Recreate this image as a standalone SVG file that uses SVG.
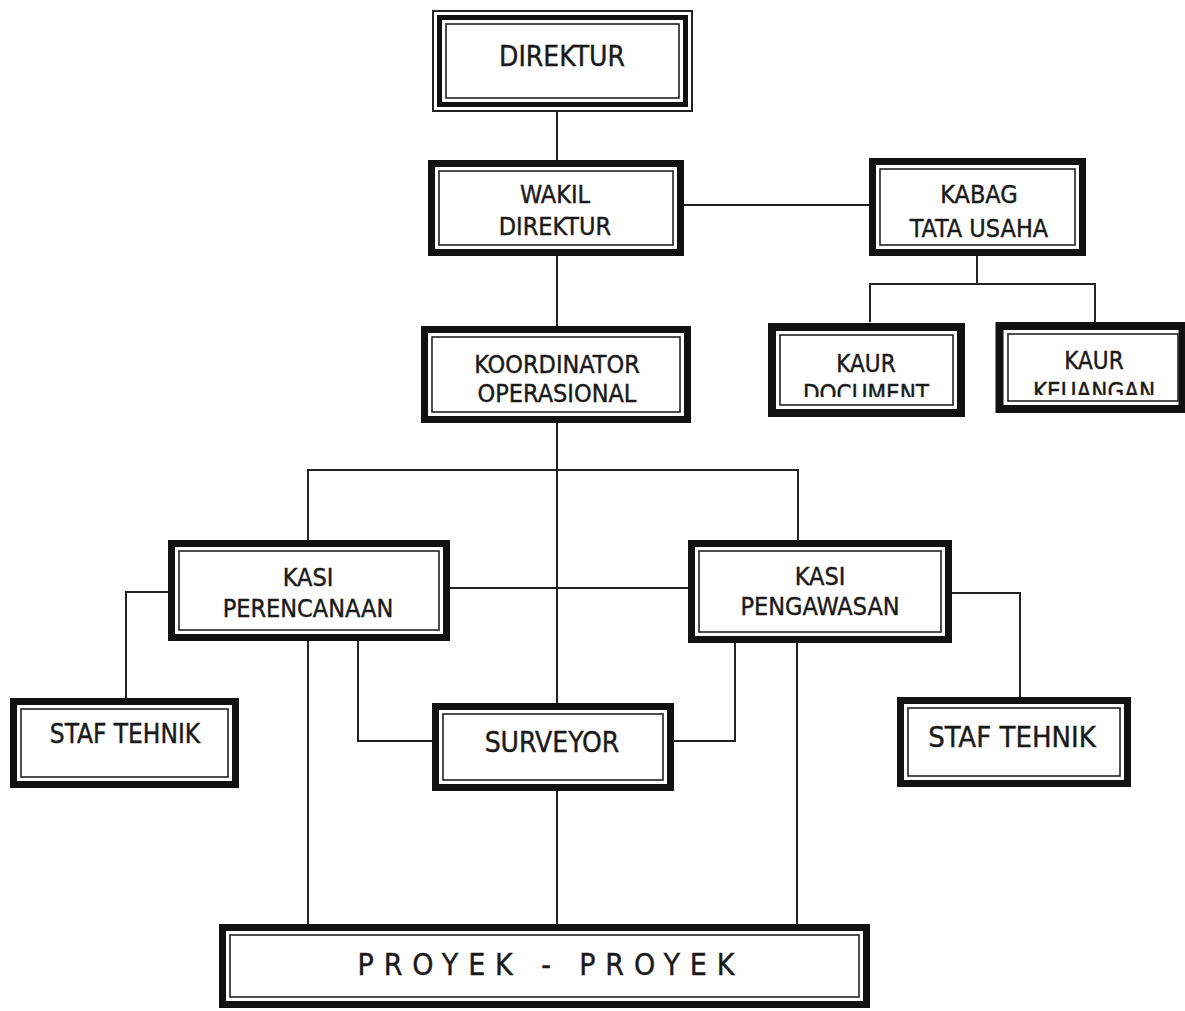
<svg xmlns="http://www.w3.org/2000/svg" width="1185" height="1011" viewBox="0 0 1185 1011">
<style>
  .thick { fill: #fff; stroke: #111; stroke-width: 7; }
  .thin { fill: none; stroke: #222; stroke-width: 1.6; }
  .thin2 { fill: none; stroke: #222; stroke-width: 2; }
  .mid { fill: none; stroke: #111; stroke-width: 5; }
  .lbl { font-family: "DejaVu Sans Condensed", "DejaVu Sans", sans-serif; font-size: 25px; fill: #1a1a1a; stroke: #1a1a1a; stroke-width: 0.4; text-anchor: middle; }
  .conn line, .conn polyline { fill: none; stroke: #222; stroke-width: 2; }
</style>
<defs>
  <clipPath id="clipDoc"><rect x="770" y="378" width="190" height="19"/></clipPath>
  <clipPath id="clipKeu"><rect x="1000" y="376" width="185" height="19"/></clipPath>
</defs>
<rect width="1185" height="1011" fill="#fff"/>

<g class="conn" id="connectors">
  <line x1="557" y1="112" x2="557" y2="160"/>
  <line x1="557" y1="256" x2="557" y2="326"/>
  <line x1="684" y1="205" x2="869" y2="205"/>
  <line x1="977" y1="256" x2="977" y2="284"/>
  <polyline points="870,322 870,284 1095,284 1095,322"/>
  <line x1="557" y1="423" x2="557" y2="703"/>
  <polyline points="308,540 308,470 798,470 798,540"/>
  <line x1="450" y1="588" x2="688" y2="588"/>
  <polyline points="168,592 126,592 126,698"/>
  <polyline points="952,593 1020,593 1020,697"/>
  <line x1="308" y1="641" x2="308" y2="924"/>
  <polyline points="358,641 358,741 432,741"/>
  <polyline points="735,643 735,741 674,741"/>
  <line x1="797" y1="643" x2="797" y2="924"/>
  <line x1="557" y1="791" x2="557" y2="924"/>
</g>

<g id="direktur">
  <rect x="433" y="11" width="259" height="100" class="thin2" fill="#fff"/>
  <rect x="439.5" y="17.5" width="246" height="87" class="mid"/>
  <rect x="446" y="24" width="233" height="74" class="thin"/>
  <text x="562" y="66" class="lbl" style="font-size:28px">DIREKTUR</text>
</g>

<g id="wakil-direktur">
  <rect x="431.5" y="163.5" width="249" height="89" class="thick"/>
  <rect x="439" y="171" width="234" height="74" class="thin"/>
  <text x="555" y="203" class="lbl">WAKIL</text>
  <text x="555" y="235" class="lbl">DIREKTUR</text>
</g>

<g id="kabag-tata-usaha">
  <rect x="872.5" y="161.5" width="210" height="91" class="thick"/>
  <rect x="880" y="169" width="195" height="76" class="thin"/>
  <text x="979" y="203" class="lbl">KABAG</text>
  <text x="979" y="237" class="lbl">TATA USAHA</text>
</g>

<g id="kaur-document">
  <rect x="772" y="327" width="189" height="86" class="thick" style="stroke-width:8"/>
  <rect x="780" y="335" width="173" height="70" class="thin"/>
  <text x="866" y="372" class="lbl" style="font-size:24px">KAUR</text>
  <text x="866" y="402" class="lbl" style="font-size:24px" clip-path="url(#clipDoc)">DOCUMENT</text>
</g>

<g id="kaur-keuangan">
  <rect x="999.5" y="326" width="183" height="83" class="thick" style="stroke-width:8"/>
  <rect x="1008" y="334" width="170" height="67" class="thin"/>
  <text x="1094" y="369" class="lbl" style="font-size:24px">KAUR</text>
  <text x="1094" y="400" class="lbl" style="font-size:24px" clip-path="url(#clipKeu)">KEUANGAN</text>
</g>

<g id="koordinator-operasional">
  <rect x="424.5" y="329.5" width="263" height="90" class="thick"/>
  <rect x="432" y="337" width="248" height="75" class="thin"/>
  <text x="557" y="373" class="lbl">KOORDINATOR</text>
  <text x="557" y="402" class="lbl">OPERASIONAL</text>
</g>

<g id="kasi-perencanaan">
  <rect x="171.5" y="543.5" width="275" height="94" class="thick"/>
  <rect x="179" y="551" width="260" height="79" class="thin"/>
  <text x="308" y="586" class="lbl">KASI</text>
  <text x="308" y="617" class="lbl">PERENCANAAN</text>
</g>

<g id="kasi-pengawasan">
  <rect x="691.5" y="543.5" width="257" height="96" class="thick"/>
  <rect x="699" y="551" width="242" height="81" class="thin"/>
  <text x="820" y="585" class="lbl">KASI</text>
  <text x="820" y="615" class="lbl">PENGAWASAN</text>
</g>

<g id="staf-tehnik-kiri">
  <rect x="13.5" y="701.5" width="222" height="83" class="thick"/>
  <rect x="21" y="709" width="207" height="68" class="thin"/>
  <text x="125" y="743" class="lbl" style="font-size:26px">STAF TEHNIK</text>
</g>

<g id="surveyor">
  <rect x="435.5" y="706.5" width="235" height="81" class="thick"/>
  <rect x="443" y="714" width="220" height="66" class="thin"/>
  <text x="552" y="752" class="lbl" style="font-size:28px">SURVEYOR</text>
</g>

<g id="staf-tehnik-kanan">
  <rect x="900.5" y="700.5" width="227" height="83" class="thick"/>
  <rect x="908" y="708" width="212" height="68" class="thin"/>
  <text x="1012" y="747" class="lbl" style="font-size:29px">STAF TEHNIK</text>
</g>

<g id="proyek-proyek">
  <rect x="222.5" y="927.5" width="644" height="77" class="thick"/>
  <rect x="230" y="935" width="629" height="62" class="thin"/>
  <text x="546" y="975" class="lbl" style="font-size:30px" textLength="377" lengthAdjust="spacing">PROYEK - PROYEK</text>
</g>
</svg>
